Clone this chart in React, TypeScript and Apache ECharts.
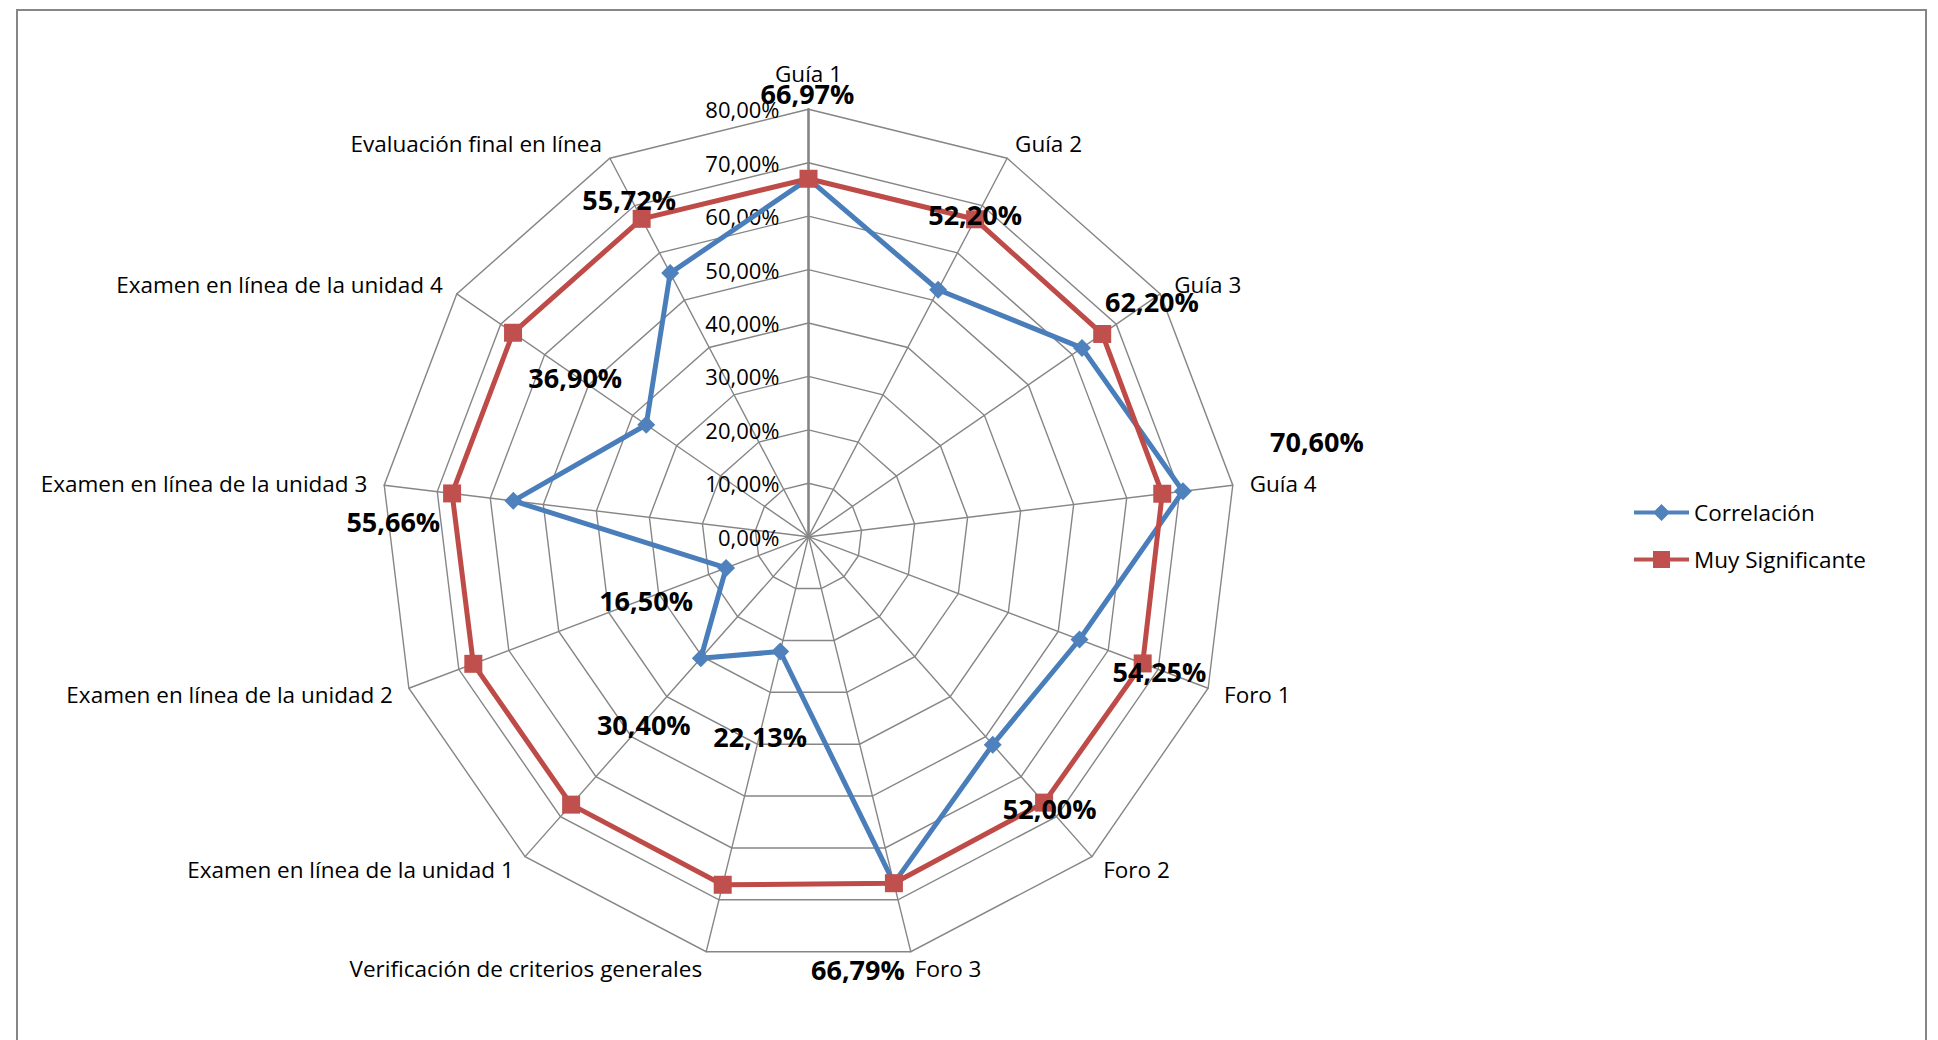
import React, { useEffect, useRef } from "react";
import * as echarts from "echarts";

const categories = [
  "Guía 1",
  "Guía 2",
  "Guía 3",
  "Guía 4",
  "Foro 1",
  "Foro 2",
  "Foro 3",
  "Verificación de criterios generales",
  "Examen en línea de la unidad 1",
  "Examen en línea de la unidad 2",
  "Examen en línea de la unidad 3",
  "Examen en línea de la unidad 4",
  "Evaluación final en línea",
];
const correlacion = [66.97, 52.2, 62.2, 70.6, 54.25, 52.0, 66.79, 22.13, 30.4, 16.5, 55.66, 36.9, 55.72];
const muySignificante = [67.0, 67.1, 66.8, 66.7, 66.9, 66.5, 66.8, 67.1, 67.0, 67.1, 67.2, 67.2, 67.2];
const seriesNames = ["Correlación", "Muy Significante"];
const axisMin = 0;
const axisMax = 80;
const axisStep = 10;

// label placement (pixels, relative to each Correlación point)
const labelOffsets: [number, number][] = [
  [-1, -85],
  [37, -75],
  [70, -46],
  [134, -50],
  [80, 32],
  [57, 64],
  [-36, 86],
  [-20, 85],
  [-57, 66],
  [-80, 33],
  [-120, 21],
  [-71, -47],
  [-41, -74],
];

const CENTER: [number, number] = [808.5, 536.7];
const RADIUS = 427.4;
const FONT = "'Open Sans', Lato, sans-serif";
const BLUE_LINE = "#4A7EBB";
const BLUE_FILL = "#4F81BD";
const RED_LINE = "#BE4B48";
const RED_FILL = "#C0504D";
const GRID = "#868686";

const fmt = (v: number) => `${v.toFixed(2).replace(".", ",")}%`;

// ECharts radar runs counter-clockwise; reorder so the picture runs clockwise
const reorder = <T,>(arr: T[]): T[] => arr.map((_, j) => arr[(arr.length - j) % arr.length]);

export default function App() {
  const ref = useRef<HTMLDivElement>(null);
  useEffect(() => {
    if (!ref.current) return;
    const chart = echarts.init(ref.current, null, { renderer: "svg" });
    const option: any = {
      animation: false,
      backgroundColor: "#fff",
      graphic: [
        {
          type: "rect",
          shape: { x: 17, y: 10, width: 1909, height: 1100 },
          style: { fill: "none", stroke: GRID, lineWidth: 2 },
          silent: true,
          z: -1,
        },
      ],
      legend: {
        orient: "vertical",
        left: 1629,
        top: 496,
        itemWidth: 55,
        itemHeight: 17,
        itemGap: 24,
        selectedMode: false,
        textStyle: { color: "#000", fontSize: 22.5, fontFamily: FONT },
        data: [
          {
            name: seriesNames[0],
            icon: "path://M0,6.5 L55,6.5 L55,10.5 L0,10.5 Z M27.5,0 L36,8.5 L27.5,17 L19,8.5 Z",
            itemStyle: { color: BLUE_FILL },
          },
          {
            name: seriesNames[1],
            icon: "path://M0,6.5 L55,6.5 L55,10.5 L0,10.5 Z M19,0 L36,0 L36,17 L19,17 Z",
            itemStyle: { color: RED_FILL },
          },
        ],
      },
      radar: {
        center: CENTER,
        radius: RADIUS,
        startAngle: 90,
        splitNumber: (axisMax - axisMin) / axisStep,
        shape: "polygon",
        nameGap: 17,
        indicator: reorder(categories).map((name) => ({ name, min: axisMin, max: axisMax })),
        axisName: {
          color: "#000",
          fontSize: 23,
          fontFamily: FONT,
          formatter: (name: string) => (name === categories[0] ? `{top|${name}}` : `{n|${name}}`),
          rich: {
            top: { color: "#000", fontSize: 22.5, fontFamily: FONT, padding: [0, 0, 7, 0] },
            n: { color: "#000", fontSize: 22.5, fontFamily: FONT },
          },
        },
        axisLine: { lineStyle: { color: GRID, width: 1.4 } },
        splitLine: { lineStyle: { color: GRID, width: 1.4 } },
        splitArea: { show: false },
        axisTick: { show: false },
        axisLabel: { show: false },
      },
      polar: { center: CENTER, radius: RADIUS },
      angleAxis: {
        type: "value",
        min: 0,
        max: categories.length,
        startAngle: 90,
        clockwise: true,
        axisLine: { show: false },
        axisTick: { show: false },
        axisLabel: { show: false },
        splitLine: { show: false },
      },
      radiusAxis: {
        type: "value",
        min: axisMin,
        max: axisMax,
        interval: axisStep,
        axisLine: { show: true, lineStyle: { color: GRID, width: 2.5 } },
        axisTick: { show: false },
        splitLine: { show: false },
        axisLabel: {
          margin: 29,
          color: "#000",
          fontSize: 22,
          fontFamily: FONT,
          formatter: (v: number) => fmt(v),
        },
      },
      series: [
        {
          type: "radar",
          name: seriesNames[0],
          z: 3,
          symbol: "diamond",
          symbolSize: 18,
          lineStyle: { color: BLUE_LINE, width: 5 },
          itemStyle: { color: BLUE_FILL },
          data: [{ name: seriesNames[0], value: reorder(correlacion) }],
        },
        {
          type: "radar",
          name: seriesNames[1],
          z: 4,
          symbol: "rect",
          symbolSize: 18,
          lineStyle: { color: RED_LINE, width: 5 },
          itemStyle: { color: RED_FILL },
          data: [{ name: seriesNames[1], value: reorder(muySignificante) }],
        },
        {
          type: "scatter",
          coordinateSystem: "polar",
          z: 10,
          silent: true,
          symbolSize: 1,
          itemStyle: { color: "rgba(0,0,0,0)" },
          label: {
            show: true,
            position: "inside",
            color: "#000",
            opacity: 1,
            fontSize: 27,
            fontWeight: "bold",
            fontFamily: FONT,
            textBorderWidth: 0,
            formatter: (p: any) => fmt(p.value[0]),
          },
          data: correlacion.map((v, i) => ({ value: [v, i], label: { offset: labelOffsets[i] } })),
        },
      ],
    };
    chart.setOption(option);
    return () => chart.dispose();
  }, []);
  return (
    <div
      ref={ref}
      style={{ position: "fixed", left: 0, top: 0, width: 1938, height: 1040, background: "#fff" }}
    />
  );
}
